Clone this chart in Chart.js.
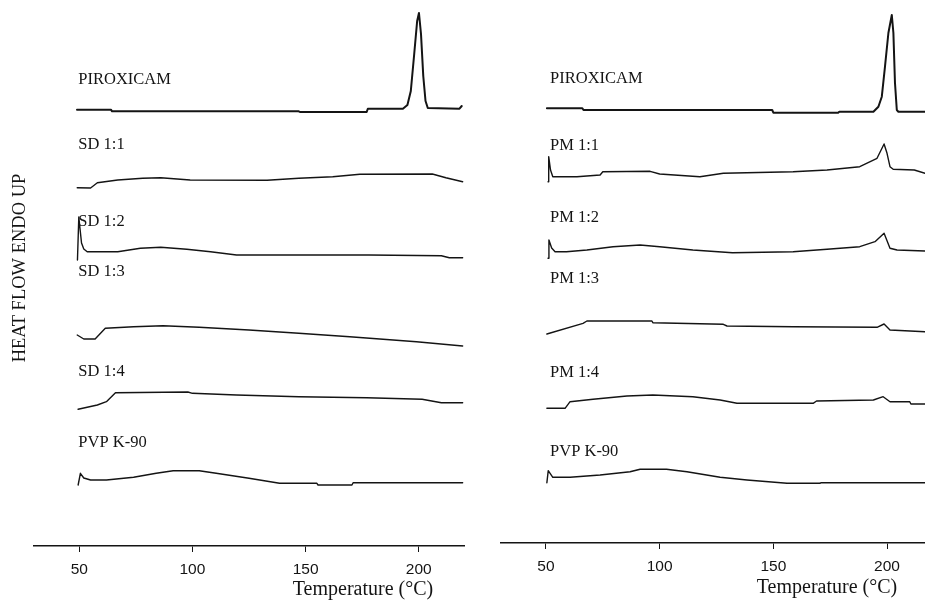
<!DOCTYPE html>
<html>
<head>
<meta charset="utf-8">
<script src="https://cdn.jsdelivr.net/npm/chart.js@4.4.1/dist/chart.umd.min.js"></script>
<style>
    body { margin: 0; background: #fff; }
    #wrap { position: relative; width: 925px; height: 604px; overflow: hidden; }
    canvas { position: absolute; top: 0; }
    #left-chart { left: 0; }
    #right-chart { left: 470px; }
</style>
</head>
<body>
<div id="wrap">
    <canvas id="left-chart" width="470" height="604"></canvas>
    <canvas id="right-chart" width="455" height="604"></canvas>
</div>
<script>
// temperature axis ticks (°C)
const tempTicks = [50, 100, 150, 200];

// curve names, top to bottom
const leftNames = ['PIROXICAM', 'SD 1:1', 'SD 1:2', 'SD 1:3', 'SD 1:4', 'PVP K-90'];
const rightNames = ['PIROXICAM', 'PM 1:1', 'PM 1:2', 'PM 1:3', 'PM 1:4', 'PVP K-90'];

// DSC traces, heat flow endo up (arbitrary units, stacked), as [temperature °C, signal]
const piroxicamA = [[49, 436.3], [64, 436.3], [64.5, 434.7], [147, 434.7], [147.5, 434], [177, 434], [177.5, 437.3],
    [193, 437.3], [195, 441], [196.5, 455], [198, 492], [199.3, 525], [200.1, 533], [201, 512], [202, 470],
    [203, 445], [204, 438], [218, 437.3], [219, 440]];
const sd11 = [[49.1, 358.3], [55, 358], [58, 363.3], [67, 366], [78, 367.7], [86, 368.3], [99, 366], [133, 365.7],
    [147, 367.7], [162, 369.3], [174, 371.7], [206, 372], [212, 368.3], [219.4, 364.3]];
const sd12 = [[49.2, 286], [49.8, 329], [50.3, 318], [51, 303], [52, 297], [53.5, 294.3], [67, 294.3], [77, 297.7],
    [86, 298.7], [97.5, 296.7], [108, 294.3], [119.5, 291], [178, 291], [210, 290.3], [213.5, 288.3], [219.4, 288.3]];
const sd13 = [[49.1, 211], [52, 207], [57, 207], [61.5, 217.7], [74, 219.3], [87, 220.3], [103, 218.7], [125, 216],
    [147, 212.7], [169.5, 209.3], [199, 204.3], [219.4, 200]];
const sd14 = [[49.5, 136.7], [58, 141], [62, 144.3], [66, 153.3], [98, 154], [100, 152.7], [119.5, 151], [147, 149.3],
    [177, 148.3], [201.5, 146.7], [210, 143.3], [219.4, 143.3]];
const pvpA = [[49.5, 61], [50.5, 72.7], [52, 68], [55, 66], [62, 66], [74, 68.7], [84, 72.7], [91.5, 75.3], [103, 75.3],
    [110.5, 72.7], [125, 67.7], [138.5, 62.7], [155, 62.7], [155.5, 61], [170.5, 61], [171, 63.3], [219.4, 63.3]];

const piroxicamB = [[50.4, 434.7], [66, 434.7], [66.5, 433], [149.5, 433], [150, 430.3], [178.5, 430.3], [179, 431.3],
    [194, 431.3], [196.2, 436.3], [197.7, 446.3], [199.1, 476.3], [200.6, 510], [202.1, 528], [202.8, 510],
    [203.5, 460], [204.3, 433], [205, 431.3], [216.7, 431.3]];
const pm11 = [[50.9, 361.3], [51.2, 386.3], [52, 373], [53, 366.3], [63.6, 366.3], [73.8, 368], [75, 371.3],
    [95.8, 371.7], [100, 369], [117.7, 366.3], [128, 369.7], [158.7, 371.3], [173.6, 373], [188, 376.3],
    [195.6, 384.7], [198.7, 399], [200, 389.7], [201.3, 376.3], [202.7, 373.7], [212, 373], [216.7, 369.7]];
const pm12 = [[50.9, 284.7], [51.3, 303], [52.5, 295], [54, 291.3], [59, 291.3], [68, 293], [79.5, 296.3], [91.4, 298],
    [100, 296.3], [114.6, 293], [132, 290.3], [158.7, 291.3], [173.6, 293.7], [188, 296.3], [194.7, 301.3],
    [198.7, 309.7], [201.3, 294.7], [204.4, 293], [216.7, 292]];
const pm13 = [[50.4, 209], [66.3, 219.7], [68, 222], [96.6, 222], [97, 220.3], [128, 218.7], [129.6, 217],
    [158.7, 216.3], [195.6, 215.7], [198.7, 219], [201.3, 213], [216.7, 211.3]];
const pm14 = [[50.4, 134.7], [58.4, 134.7], [60.6, 141.3], [70.7, 143.7], [85.6, 147], [97, 148], [114.6, 146.3],
    [126.6, 143], [134, 139.7], [167.5, 139.7], [169, 142], [194, 143], [198.3, 146.3], [201.3, 141.3],
    [210, 141.3], [210.5, 139], [216.7, 139]];
const pvpB = [[50.4, 60.3], [51, 72.3], [53, 65.7], [60.6, 65.7], [73.8, 68], [87, 71.3], [91.4, 73.7], [103, 73.7],
    [112, 71.3], [126.6, 65.7], [138.4, 63], [156, 59.7], [170.5, 59.7], [171, 60.3], [216.7, 60.3]];

const leftSeries = [piroxicamA, sd11, sd12, sd13, sd14, pvpA];
const rightSeries = [piroxicamB, pm11, pm12, pm13, pm14, pvpB];

// where the curve names sit (signal level of the text middle)
const leftNameLevels = [466, 401, 324, 274, 174, 103];
const rightNameLevels = [464, 397, 325, 264, 170, 91];

const serif = '"Liberation Serif", "Times New Roman", serif';
const sans = '"Liberation Sans", Arial, sans-serif';
const ink = '#141414';

const thermoText = {
    id: 'thermoText',
    beforeDatasetsDraw(chart, args, opts) {
        const { ctx, chartArea, scales: { x, y } } = chart;
        ctx.save();
        ctx.fillStyle = ink;
        ctx.textAlign = 'left';
        ctx.textBaseline = 'middle';
        ctx.font = '16.5px ' + serif;
        opts.names.forEach((name, i) => {
            ctx.fillText(name, x.getPixelForValue(opts.nameT), y.getPixelForValue(opts.levels[i]));
        });
        ctx.textAlign = 'center';
        ctx.font = '20px ' + serif;
        ctx.fillText('Temperature (\u00B0C)', chartArea.right - opts.titleInset, opts.titleY);
        if (opts.yTitle) {
            ctx.translate(20, 268);
            ctx.rotate(-Math.PI / 2);
            ctx.font = '18.5px ' + serif;
            ctx.fillText(opts.yTitle, 0, 0);
        }
        ctx.restore();
    }
};

function buildChart(canvasId, series, names, levels, cfg) {
    const ctx = document.getElementById(canvasId).getContext('2d');
    return new Chart(ctx, {
        type: 'line',
        data: {
            datasets: series.map((pts, i) => ({
                label: names[i],
                data: pts.map(([t, v]) => ({ x: t, y: v })),
                borderColor: ink,
                borderWidth: i === 0 ? 2 : 1.4,
                borderJoinStyle: 'round',
                borderCapStyle: 'round',
                pointRadius: 0,
                tension: 0,
                fill: false
            }))
        },
        options: {
            responsive: false,
            animation: false,
            layout: { padding: { left: cfg.padLeft, right: cfg.padRight, top: 0, bottom: 0 } },
            plugins: {
                legend: { display: false },
                tooltip: { enabled: false },
                thermoText: {
                    names: names,
                    levels: levels,
                    nameT: cfg.nameT,
                    titleInset: cfg.titleInset,
                    titleY: cfg.titleY,
                    yTitle: cfg.yTitle
                }
            },
            scales: {
                x: {
                    type: 'linear',
                    min: 30,
                    max: cfg.xMax,
                    afterBuildTicks: (axis) => { axis.ticks = tempTicks.map(v => ({ value: v })); },
                    afterFit: (scale) => { scale.height = 604 - cfg.axisY; },
                    ticks: {
                        color: ink,
                        font: { family: sans, size: 15.5 },
                        padding: 8
                    },
                    grid: {
                        drawOnChartArea: false,
                        drawTicks: true,
                        tickLength: 6,
                        color: ink,
                        lineWidth: 1
                    },
                    border: { display: true, color: ink, width: 1.5 }
                },
                y: {
                    type: 'linear',
                    display: false,
                    min: 0,
                    max: cfg.axisY
                }
            }
        },
        plugins: [thermoText]
    });
}

buildChart('left-chart', leftSeries, leftNames, leftNameLevels, {
    padLeft: 34, padRight: 6, xMax: 220, axisY: 546, nameT: 49.6,
    titleInset: 101, titleY: 590, yTitle: 'HEAT FLOW ENDO UP'
});
buildChart('right-chart', rightSeries, rightNames, rightNameLevels, {
    padLeft: 30.5, padRight: 0, xMax: 216.7, axisY: 543, nameT: 51.8,
    titleInset: 98, titleY: 588, yTitle: null
});
</script>
</body>
</html>
